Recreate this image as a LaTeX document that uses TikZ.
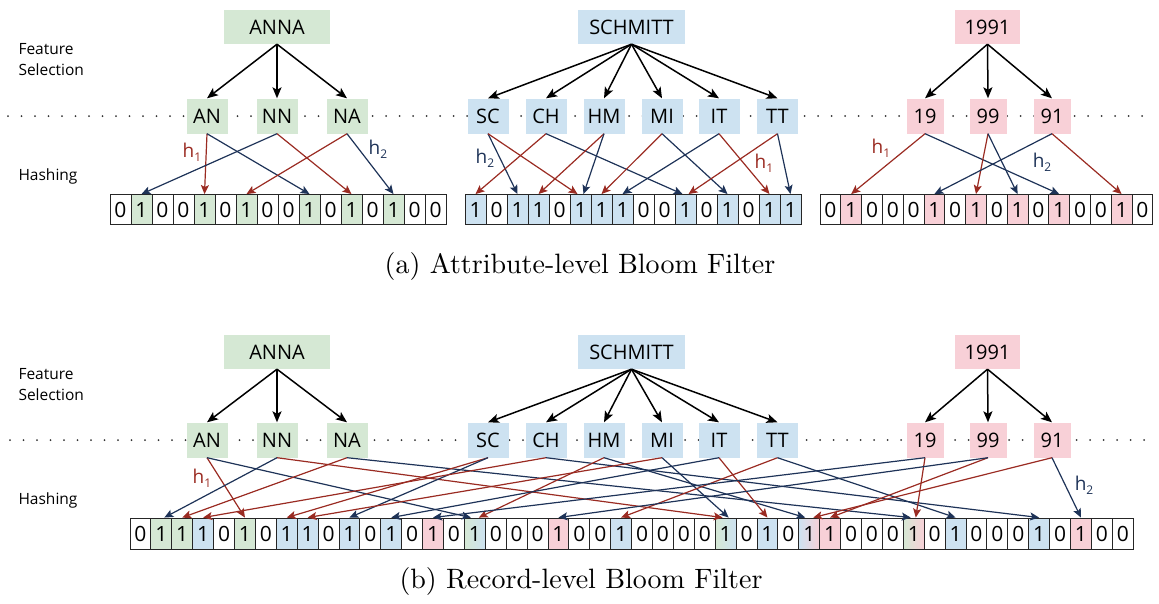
\documentclass[tikz,border=0pt]{standalone}
\usepackage{fontspec}
\usetikzlibrary{arrows.meta}
\newfontfamily\figsans{Open Sans}
\newfontfamily\capfont{lmroman10-regular.otf}
\definecolor{gfill}{HTML}{D5E8D4}
\definecolor{bfill}{HTML}{CDE2F1}
\definecolor{pfill}{HTML}{F8D0D7}
\definecolor{hred}{HTML}{9A2B22}
\definecolor{hblue}{HTML}{1E3358}
\newcommand\hsub[1]{\raisebox{-0.35ex}{\fontsize{12}{12}\selectfont #1}}
\tikzset{
  word/.style={fill=#1, minimum height=34pt, inner sep=0pt, font=\figsans\fontsize{20}{20}\selectfont},
  gram/.style={fill=#1, minimum height=35pt, inner sep=0pt, font=\figsans\fontsize{20}{20}\selectfont},
  bit/.style={draw=black!85, line width=0.9pt, minimum width=#1, minimum height=30pt, inner sep=0pt,
    font=\figsans\fontsize{21}{21}\selectfont},
  cw/.style={fill=white}, cg/.style={fill=gfill}, cb/.style={fill=bfill}, cp/.style={fill=pfill},
  cgb/.style={left color=gfill, right color=bfill},
  cbp/.style={left color=bfill, right color=pfill},
  cgp/.style={left color=gfill, right color=pfill},
  tree/.style={-{Stealth[length=11pt,width=9pt,inset=2.5pt]}, line width=1.5pt, black},
  hr/.style={-{Stealth[length=9pt,width=8pt,inset=2pt]}, line width=1.2pt, hred},
  hb/.style={-{Stealth[length=9pt,width=8pt,inset=2pt]}, line width=1.2pt, hblue},
  sep/.style={line width=2pt, line cap=round, dash pattern=on 0pt off 13.5pt, black!80},
  side/.style={anchor=west, align=left, font=\figsans\fontsize{15.5}{21}\selectfont},
  hlab/.style={font=\figsans\fontsize{19}{19}\selectfont},
  caption/.style={anchor=base, font=\capfont\fontsize{28}{30}\selectfont}
}
\begin{document}
\begin{tikzpicture}[x=1pt,y=-1pt]
\useasboundingbox (0,0) rectangle (1159,603);

% ---------------- (a) attribute-level ----------------
\draw[sep] (8,116) -- (1152,116);
\node[side] (fsA) at (15,60) {Feature\\Selection};
\node[side] (hsA) at (15,176) {Hashing};

\node[word=gfill, minimum width=106pt] (aANNA) at (277,27) {ANNA};
\node[word=bfill, minimum width=107pt] (aSCH) at (631.5,27) {SCHMITT};
\node[word=pfill, minimum width=65pt] (a1991) at (987.5,27) {1991};

\foreach \n/\x in {AN/207,NN/277,NA/347}
  \node[gram=gfill, minimum width=41pt] (a\n) at (\x,116) {\n};
\foreach \n/\x in {SC/488,CH/546,HM/604,MI/662,IT/719,TT/777.5}
  \node[gram=bfill, minimum width=41pt] (a\n) at (\x,116) {\n};
\foreach \n/\x in {19/925,99/988,91/1052}
  \node[gram=pfill, minimum width=37pt] (a\n) at (\x,116) {\n};

\foreach \n in {AN,NN,NA} \draw[tree] (aANNA.south) -- (a\n.north);
\foreach \n in {SC,CH,HM,MI,IT,TT} \draw[tree] (aSCH.south) -- (a\n.north);
\foreach \n in {19,99,91} \draw[tree] (a1991.south) -- (a\n.north);

\foreach \c/\b [count=\i from 0] in {cw/0,cg/1,cw/0,cw/0,cg/1,cw/0,cg/1,cw/0,cw/0,cg/1,cw/0,cg/1,cw/0,cg/1,cw/0,cw/0}
  \node[bit=21pt,\c] (L\i) at ({120.5+21*\i},209.5) {\b};
\foreach \c/\b [count=\i from 0] in {cb/1,cw/0,cb/1,cb/1,cw/0,cb/1,cb/1,cb/1,cw/0,cw/0,cb/1,cw/0,cb/1,cw/0,cb/1,cb/1}
  \node[bit=21pt,\c] (M\i) at ({475.5+21*\i},209.5) {\b};
\foreach \c/\b [count=\i from 0] in {cw/0,cp/1,cw/0,cw/0,cw/0,cp/1,cw/0,cp/1,cw/0,cp/1,cw/0,cp/1,cw/0,cw/0,cp/1,cw/0}
  \node[bit=20.8pt,\c] (R\i) at ({830.4+20.8*\i},209.5) {\b};

% ANNA bigrams
\draw[hr] (aAN.south) -- (L4.north);
\draw[hb] (aAN.south) -- (L9.north);
\draw[hr] (aNN.south) -- (L11.north);
\draw[hb] (aNN.south) -- (L1.north);
\draw[hr] (aNA.south) -- (L6.north);
\draw[hb] (aNA.south) -- (L13.north);
% SCHMITT bigrams
\draw[hb] (aSC.south) -- (M2.north);
\draw[hr] (aSC.south) -- ([xshift=-3pt]M5.north);
\draw[hr] (aCH.south) -- (M0.north);
\draw[hb] (aCH.south) -- ([xshift=-3pt]M10.north);
\draw[hr] (aHM.south) -- (M3.north);
\draw[hb] (aHM.south) -- ([xshift=3pt]M5.north);
\draw[hr] (aMI.south) -- (M6.north);
\draw[hb] (aMI.south) -- (M12.north);
\draw[hb] (aIT.south) -- (M7.north);
\draw[hr] (aIT.south) -- (M14.north);
\draw[hr] (aTT.south) -- ([xshift=3pt]M10.north);
\draw[hb] (aTT.south) -- (M15.north);
% 1991 bigrams
\draw[hr] (a19.south) -- (R1.north);
\draw[hb] (a19.south) -- (R11.north);
\draw[hr] (a99.south) -- (R7.north);
\draw[hb] (a99.south) -- (R9.north);
\draw[hb] (a91.south) -- (R5.north);
\draw[hr] (a91.south) -- (R14.north);

\node[hlab, text=hred] (la1) at (192,152) {h\hsub{1}};
\node[hlab, text=hblue] (la2) at (378,149) {h\hsub{2}};
\node[hlab, text=hblue] (lb2) at (485,158) {h\hsub{2}};
\node[hlab, text=hred] (lb1) at (764,163) {h\hsub{1}};
\node[hlab, text=hred] (lc1) at (881,148) {h\hsub{1}};
\node[hlab, text=hblue] (lc2) at (1042,162) {h\hsub{2}};

\node[caption] (capA) at (580,273) {(a) Attribute-level Bloom Filter};

% ---------------- (b) record-level ----------------
\draw[sep] (10,440) -- (1152,440);
\node[side] (fsB) at (15,385) {Feature\\Selection};
\node[side] (hsB) at (15,500) {Hashing};

\node[word=gfill, minimum width=106pt] (bANNA) at (277,352) {ANNA};
\node[word=bfill, minimum width=107pt] (bSCH) at (631.5,352) {SCHMITT};
\node[word=pfill, minimum width=65pt] (b1991) at (987.5,352) {1991};

\foreach \n/\x in {AN/207,NN/277,NA/347}
  \node[gram=gfill, minimum width=41pt] (b\n) at (\x,440) {\n};
\foreach \n/\x in {SC/488,CH/546,HM/604,MI/662,IT/719,TT/777.5}
  \node[gram=bfill, minimum width=41pt] (b\n) at (\x,440) {\n};
\foreach \n/\x in {19/925,99/988,91/1052}
  \node[gram=pfill, minimum width=37pt] (b\n) at (\x,440) {\n};

\foreach \n in {AN,NN,NA} \draw[tree] (bANNA.south) -- (b\n.north);
\foreach \n in {SC,CH,HM,MI,IT,TT} \draw[tree] (bSCH.south) -- (b\n.north);
\foreach \n in {19,99,91} \draw[tree] (b1991.south) -- (b\n.north);

\foreach \c/\b [count=\i from 0] in {cw/0,cg/1,cg/1,cb/1,cw/0,cg/1,cw/0,cb/1,cb/1,cw/0,
    cb/1,cw/0,cb/1,cw/0,cp/1,cw/0,cgb/1,cw/0,cw/0,cw/0,
    cp/1,cw/0,cw/0,cb/1,cw/0,cw/0,cw/0,cw/0,cgb/1,cw/0,
    cb/1,cw/0,cbp/1,cp/1,cw/0,cw/0,cw/0,cgp/1,cw/0,cb/1,
    cw/0,cw/0,cw/0,cb/1,cw/0,cp/1,cw/0,cw/0}
  \node[bit=20.9pt,\c, minimum height=31pt] (B\i) at ({140.45+20.9*\i},533.5) {\b};

% ANNA bigrams
\draw[hr] (bAN.south) -- (B5.north);
\draw[hb] (bAN.south) -- ([xshift=-4pt]B16.north);
\draw[hr] (bNN.south) -- ([xshift=-3pt]B28.north);
\draw[hb] (bNN.south) -- ([xshift=3pt]B1.north);
\draw[hr] (bNA.south) -- (B2.north);
\draw[hb] (bNA.south) -- ([xshift=-3pt]B37.north);
% SCHMITT bigrams
\draw[hr] (bSC.south) -- (B7.north);
\draw[hb] (bSC.south) -- (B10.north);
\draw[hr] (bCH.south) -- (B3.north);
\draw[hb] (bCH.south) -- (B43.north);
\draw[hr] (bHM.south) -- ([xshift=4pt]B16.north);
\draw[hb] (bHM.south) -- ([xshift=-4pt]B32.north);
\draw[hr] (bMI.south) -- (B8.north);
\draw[hb] (bMI.south) -- ([xshift=3pt]B28.north);
\draw[hr] (bIT.south) -- (B30.north);
\draw[hb] (bIT.south) -- (B12.north);
\draw[hr] (bTT.south) -- (B23.north);
\draw[hb] (bTT.south) -- (B39.north);
% 1991 bigrams
\draw[hr] (b19.south) -- ([xshift=2pt]B37.north);
\draw[hb] (b19.south) -- (B14.north);
\draw[hr] (b99.south) -- (B33.north);
\draw[hb] (b99.south) -- (B20.north);
\draw[hr] (b91.south) -- ([xshift=4pt]B32.north);
\draw[hb] (b91.south) -- (B45.north);

\node[hlab, text=hred] (ld1) at (202,478) {h\hsub{1}};
\node[hlab, text=hblue] (ld2) at (1084,485) {h\hsub{2}};

\node[caption] (capB) at (581,588) {(b) Record-level Bloom Filter};
\end{tikzpicture}
\end{document}
